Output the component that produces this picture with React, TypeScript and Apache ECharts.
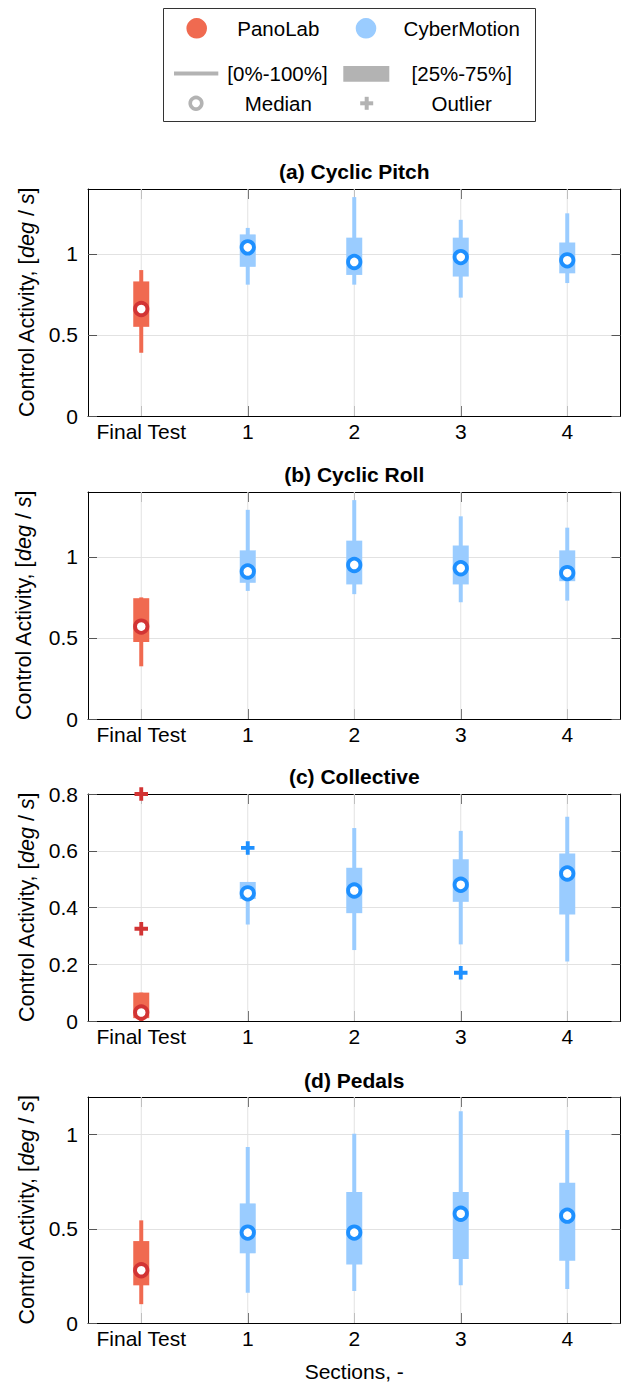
import React, { useEffect, useRef } from 'react';
import * as echarts from 'echarts';

// ---------- data ----------
const categories = ['Final Test', '1', '2', '3', '4'];

// each row: [min, q1, median, q3, max]
const pitchPano = [[0.39, 0.55, 0.66, 0.83, 0.9]];
const pitchCyber = [
  [0.81, 0.92, 1.04, 1.12, 1.16],
  [0.81, 0.87, 0.95, 1.1, 1.35],
  [0.73, 0.86, 0.98, 1.1, 1.21],
  [0.82, 0.88, 0.96, 1.07, 1.25],
];

const rollPano = [[0.325, 0.475, 0.57, 0.745, 0.75]];
const rollCyber = [
  [0.79, 0.84, 0.91, 1.04, 1.29],
  [0.77, 0.83, 0.95, 1.1, 1.35],
  [0.72, 0.83, 0.93, 1.07, 1.25],
  [0.73, 0.85, 0.9, 1.04, 1.18],
];

const collectivePano = [[0.0, 0.01, 0.03, 0.1, 0.1]];
const collectiveCyber = [
  [0.34, 0.43, 0.45, 0.49, 0.49],
  [0.25, 0.38, 0.46, 0.54, 0.68],
  [0.27, 0.42, 0.48, 0.57, 0.67],
  [0.21, 0.375, 0.52, 0.59, 0.72],
];
// outliers: [category index, value]
const collectiveOutPano = [[0, 0.8], [0, 0.325]];
const collectiveOutCyber = [[1, 0.61], [3, 0.17]];

const pedalsPano = [[0.1, 0.2, 0.28, 0.435, 0.545]];
const pedalsCyber = [
  [0.16, 0.37, 0.48, 0.635, 0.935],
  [0.17, 0.31, 0.48, 0.695, 1.005],
  [0.2, 0.34, 0.58, 0.695, 1.125],
  [0.18, 0.33, 0.57, 0.745, 1.025],
];

const titles = ['(a) Cyclic Pitch', '(b) Cyclic Roll', '(c) Collective', '(d) Pedals'];
const yMaxes = [1.4, 1.4, 0.8, 1.2];
const yIntervals = [0.5, 0.5, 0.2, 0.5];

// ---------- styles / layout ----------
const FONT = '"Liberation Sans", Arial, Helvetica, sans-serif';
const PANO_BOX = '#F06A50';
const PANO_MED = '#D23434';
const CYB_BOX = '#9ACCFF';
const CYB_MED = '#1E90FF';
const GRID_COLOR = '#e2e2e2';
const TICK_COLOR = '#555';
const LEG_GRAY = '#b3b3b3';

const layout = [
  { top: 189, height: 227, titleY: 171, nameGap: 39, showMax: false },
  { top: 492, height: 227, titleY: 474, nameGap: 53, showMax: false },
  { top: 794, height: 227, titleY: 776, nameGap: 39, showMax: true },
  { top: 1097, height: 226, titleY: 1080, nameGap: 39, showMax: false },
];
const GRID_LEFT = 88;
const GRID_RIGHT = 1.5;

const PLUS_PATH = 'path://M5,0H9V5H14V9H9V14H5V9H0V5H5Z';

function boxRenderer(boxColor: string, medColor: string) {
  return (params: any, api: any) => {
    const x = api.value(0);
    const lo = api.coord([x, api.value(1)]);
    const q1 = api.coord([x, api.value(2)]);
    const med = api.coord([x, api.value(3)]);
    const q3 = api.coord([x, api.value(4)]);
    const hi = api.coord([x, api.value(5)]);
    return {
      type: 'group',
      children: [
        {
          type: 'line',
          shape: { x1: lo[0], y1: lo[1], x2: hi[0], y2: hi[1] },
          style: { stroke: boxColor, lineWidth: 4 },
        },
        {
          type: 'rect',
          shape: { x: q1[0] - 8, y: q3[1], width: 16, height: q1[1] - q3[1] },
          style: { fill: boxColor },
        },
        {
          type: 'circle',
          shape: { cx: med[0], cy: med[1], r: 6.2 },
          style: { fill: '#ffffff', stroke: medColor, lineWidth: 3.8 },
        },
      ],
    };
  };
}

function gridLineRenderer(params: any, api: any) {
  const x = api.coord([api.value(0), 0])[0];
  const cs = params.coordSys;
  return {
    type: 'line',
    shape: { x1: x, y1: cs.y, x2: x, y2: cs.y + cs.height },
    style: { stroke: GRID_COLOR, lineWidth: 1 },
  };
}

const panelData = [
  { pano: pitchPano, cyber: pitchCyber, outPano: [] as number[][], outCyber: [] as number[][] },
  { pano: rollPano, cyber: rollCyber, outPano: [] as number[][], outCyber: [] as number[][] },
  { pano: collectivePano, cyber: collectiveCyber, outPano: collectiveOutPano, outCyber: collectiveOutCyber },
  { pano: pedalsPano, cyber: pedalsCyber, outPano: [] as number[][], outCyber: [] as number[][] },
];

function buildOption() {
  const grid: any[] = [];
  const xAxis: any[] = [];
  const yAxis: any[] = [];
  const series: any[] = [];
  const graphic: any[] = [];

  layout.forEach((L, i) => {
    grid.push({ left: GRID_LEFT, right: GRID_RIGHT, top: L.top, height: L.height, containLabel: false });
    const tickStyle = { show: true, inside: true, length: 10, alignWithLabel: true, lineStyle: { color: TICK_COLOR, width: 1 } };
    xAxis.push({
      type: 'category',
      gridIndex: i,
      data: categories,
      boundaryGap: true,
      position: 'bottom',
      axisLine: { show: true, onZero: false, lineStyle: { color: '#000', width: 1 } },
      axisTick: tickStyle,
      axisLabel: { show: true, fontFamily: FONT, fontSize: 21, color: '#000', margin: 5, interval: 0 },
      splitLine: { show: false },
      name: i === 3 ? 'Sections, -' : '',
      nameLocation: 'middle',
      nameGap: 38,
      nameTextStyle: { fontFamily: FONT, fontSize: 21, color: '#000' },
    });
    xAxis.push({
      type: 'category',
      gridIndex: i,
      data: categories,
      boundaryGap: true,
      position: 'top',
      axisLine: { show: true, onZero: false, lineStyle: { color: '#000', width: 1 } },
      axisTick: tickStyle,
      axisLabel: { show: false },
      splitLine: { show: false },
    });
    const yTick = { show: true, inside: true, length: 9, lineStyle: { color: TICK_COLOR, width: 1 } };
    yAxis.push({
      type: 'value',
      gridIndex: i,
      position: 'left',
      min: 0,
      max: yMaxes[i],
      interval: yIntervals[i],
      axisLine: { show: true, onZero: false, lineStyle: { color: '#000', width: 1 } },
      axisTick: yTick,
      axisLabel: { fontFamily: FONT, fontSize: 21, color: '#000', margin: 10, showMaxLabel: L.showMax },
      splitLine: { show: true, lineStyle: { color: GRID_COLOR, width: 1 } },
      name: 'Control Activity, [{i|deg} / {i|s}]',
      nameLocation: 'middle',
      nameRotate: 90,
      nameGap: L.nameGap,
      nameTextStyle: {
        fontFamily: FONT,
        fontSize: 21.5,
        color: '#000',
        rich: { i: { fontFamily: FONT, fontSize: 21.5, fontStyle: 'italic', color: '#000' } },
      },
    });
    yAxis.push({
      type: 'value',
      gridIndex: i,
      position: 'right',
      min: 0,
      max: yMaxes[i],
      interval: yIntervals[i],
      axisLine: { show: true, onZero: false, lineStyle: { color: '#000', width: 1 } },
      axisTick: yTick,
      axisLabel: { show: false },
      splitLine: { show: false },
    });

    const xi = 2 * i;
    const yi = 2 * i;
    const d = panelData[i];
    series.push({
      type: 'custom',
      xAxisIndex: xi,
      yAxisIndex: yi,
      silent: true,
      z: 1,
      clip: false,
      data: categories.map((_, k) => [k, 0]),
      encode: { x: 0, y: 1 },
      renderItem: gridLineRenderer,
    });
    series.push({
      type: 'custom',
      name: 'PanoLab',
      xAxisIndex: xi,
      yAxisIndex: yi,
      z: 3,
      clip: false,
      data: d.pano.map((r) => [0, ...r]),
      encode: { x: 0, y: [1, 2, 3, 4, 5] },
      renderItem: boxRenderer(PANO_BOX, PANO_MED),
    });
    series.push({
      type: 'custom',
      name: 'CyberMotion',
      xAxisIndex: xi,
      yAxisIndex: yi,
      z: 3,
      clip: false,
      data: d.cyber.map((r, k) => [k + 1, ...r]),
      encode: { x: 0, y: [1, 2, 3, 4, 5] },
      renderItem: boxRenderer(CYB_BOX, CYB_MED),
    });
    if (d.outPano.length) {
      series.push({
        type: 'scatter',
        xAxisIndex: xi,
        yAxisIndex: yi,
        z: 4,
        clip: false,
        symbol: PLUS_PATH,
        symbolSize: 13.5,
        itemStyle: { color: PANO_MED, opacity: 1 },
        data: d.outPano,
      });
    }
    if (d.outCyber.length) {
      series.push({
        type: 'scatter',
        xAxisIndex: xi,
        yAxisIndex: yi,
        z: 4,
        clip: false,
        symbol: PLUS_PATH,
        symbolSize: 13.5,
        itemStyle: { color: CYB_MED, opacity: 1 },
        data: d.outCyber,
      });
    }

    graphic.push({
      type: 'text',
      x: GRID_LEFT + (622 - GRID_LEFT - GRID_RIGHT) / 2,
      y: L.titleY,
      style: {
        text: titles[i],
        fontFamily: FONT,
        fontSize: 21,
        fontWeight: 'bold',
        fill: '#000',
        align: 'center',
        verticalAlign: 'middle',
      },
    });
  });

  // ---------- legend (drawn) ----------
  const legText = (text: string, x: number, y: number) => ({
    type: 'text',
    x,
    y,
    style: { text, fontFamily: FONT, fontSize: 20.5, fill: '#000', align: 'center', verticalAlign: 'middle' },
  });
  graphic.push(
    {
      type: 'rect',
      shape: { x: 163.5, y: 8.5, width: 372, height: 113 },
      style: { fill: '#ffffff', stroke: '#333', lineWidth: 1 },
    },
    { type: 'circle', shape: { cx: 196.7, cy: 28.3, r: 10.3 }, style: { fill: PANO_BOX } },
    legText('PanoLab', 278.3, 28.5),
    { type: 'circle', shape: { cx: 366, cy: 28.3, r: 10.3 }, style: { fill: CYB_BOX } },
    legText('CyberMotion', 461.7, 28.5),
    {
      type: 'line',
      shape: { x1: 174, y1: 73.5, x2: 218.3, y2: 73.5 },
      style: { stroke: LEG_GRAY, lineWidth: 4 },
    },
    legText('[0%-100%]', 277.5, 73.5),
    { type: 'rect', shape: { x: 343.3, y: 66, width: 46, height: 15.7 }, style: { fill: LEG_GRAY } },
    legText('[25%-75%]', 461.7, 73.5),
    {
      type: 'circle',
      shape: { cx: 196, cy: 103.3, r: 5.8 },
      style: { fill: '#ffffff', stroke: LEG_GRAY, lineWidth: 3.6 },
    },
    legText('Median', 278.3, 103.3),
    { type: 'rect', shape: { x: 360.2, y: 101.3, width: 13, height: 4 }, style: { fill: LEG_GRAY } },
    { type: 'rect', shape: { x: 364.7, y: 96.8, width: 4, height: 13 }, style: { fill: LEG_GRAY } },
    legText('Outlier', 461.7, 103.3)
  );

  return {
    animation: false,
    backgroundColor: '#ffffff',
    grid,
    xAxis,
    yAxis,
    series,
    graphic,
  };
}

export default function App() {
  const ref = useRef<HTMLDivElement>(null);
  useEffect(() => {
    if (!ref.current) return;
    const chart = echarts.init(ref.current, undefined, { renderer: 'svg' });
    chart.setOption(buildOption() as any);
    return () => chart.dispose();
  }, []);
  return (
    <div
      ref={ref}
      style={{ position: 'absolute', left: 0, top: 0, width: 622, height: 1383, background: '#fff' }}
    />
  );
}
